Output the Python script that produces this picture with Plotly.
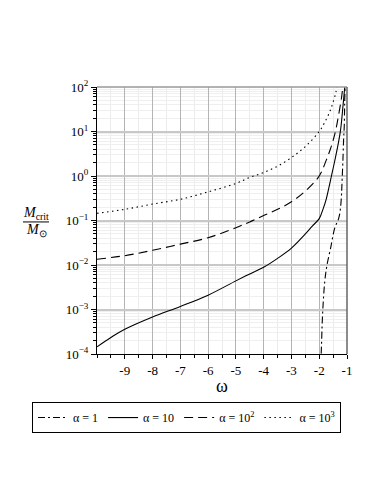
import plotly.graph_objects as go

# curves (omega, M_crit / M_sun)
w_a1 = [-1.985, -1.95, -1.93, -1.88, -1.8, -1.72, -1.59, -1.44, -1.3, -1.24, -1.2, -1.18,
        -1.15, -1.12, -1.1, -1.085, -1.07]
m_a1 = [1e-5, 6e-5, 1e-4, 7.6e-4, 4.3e-3, 0.01, 0.024, 0.068, 0.112, 0.178, 0.355, 0.71,
        2.0, 7.1, 12.6, 40, 100]

w_a10 = [-10, -9.5, -9, -8, -7, -6, -5, -4.5, -4, -3.5, -3, -2.5, -2.25, -2, -1.85, -1.75,
         -1.56, -1.44, -1.3, -1.23, -1.14, -1.08]
m_a10 = [1.45e-4, 2.35e-4, 3.6e-4, 6.8e-4, 1.17e-3, 2.1e-3, 4.4e-3, 6.3e-3, 8.9e-3, 0.0141,
         0.024, 0.05, 0.075, 0.11, 0.19, 0.3, 1.0, 2.2, 6.0, 11, 40, 100]

w_a100 = [-10, -9, -8, -7, -6, -5, -4.5, -4, -3.5, -3, -2.5, -2, -1.75, -1.6, -1.5, -1.4,
          -1.3, -1.2, -1.15]
m_a100 = [0.0135, 0.0162, 0.0214, 0.0295, 0.041, 0.069, 0.093, 0.129, 0.178, 0.263, 0.457,
          1.0, 2.24, 4.0, 6.3, 11.2, 24, 56, 100]

w_a1000 = [-10, -9, -8, -7, -6, -5, -4.5, -4, -3.5, -3, -2.5, -2, -1.75, -1.6, -1.5, -1.4, -1.37]
m_a1000 = [0.145, 0.178, 0.234, 0.30, 0.44, 0.68, 0.93, 1.2, 1.66, 2.6, 4.6, 10, 18.6, 30, 46,
           76, 100]

names = ["α = 1", "α = 10", "α = 10<sup>2</sup>", "α = 10<sup>3</sup>"]
dashes = ["7px,3px,2px,3px", "solid", "9px,5px", "1.5px,3.5px"]

x_ticks = [-9, -8, -7, -6, -5, -4, -3, -2, -1]
x_labels = ["-9", "-8", "-7", "-6", "-5", "-4", "-3", "-2", "-1"]
y_ticks = [1e-4, 1e-3, 1e-2, 1e-1, 1e0, 1e1, 1e2]
y_labels = ["10<sup>−4</sup>", "10<sup>−3</sup>", "10<sup>−2</sup>", "10<sup>−1</sup>",
            "10<sup>0</sup>", "10<sup>1</sup>", "10<sup>2</sup>"]

SERIF = "Liberation Serif"

fig = go.Figure()
for w, m, name, dash in zip([w_a1, w_a10, w_a100, w_a1000],
                            [m_a1, m_a10, m_a100, m_a1000], names, dashes):
    fig.add_trace(go.Scatter(x=w, y=m, mode="lines", name=name,
                             line=dict(color="black", width=1.1, dash=dash, shape="spline")))

# the page body adds an 8px offset, so the figure is 8px smaller each way
fig.update_layout(
    width=375, height=487,
    margin=dict(l=89, r=36, t=79, b=141),
    plot_bgcolor="white", paper_bgcolor="white",
    font=dict(family=SERIF, size=13, color="black"),
    xaxis=dict(
        range=[-10, -1], tickmode="array", tickvals=x_ticks, ticktext=x_labels,
        showline=True, linecolor="black", linewidth=1,
        ticks="outside", ticklen=4, tickcolor="black",
        showgrid=True, gridcolor="#b4b4b4", gridwidth=1.2, zeroline=False,
        minor=dict(dtick=0.5, ticks="outside", ticklen=3, tickcolor="black",
                   showgrid=True, gridcolor="#ececec", gridwidth=1),
        title=dict(text="ω", font=dict(size=18), standoff=2),
    ),
    yaxis=dict(
        type="log", range=[-4, 2], tickmode="array", tickvals=y_ticks, ticktext=y_labels,
        showline=True, linecolor="black", linewidth=1,
        ticks="outside", ticklen=5, tickcolor="black",
        showgrid=True, gridcolor="#c8c8c8", gridwidth=1.5, zeroline=False,
        minor=dict(dtick="D1", ticks="outside", ticklen=3, tickcolor="black",
                   showgrid=True, gridcolor="#efefef", gridwidth=1),
    ),
    legend=dict(orientation="h", x=-0.26, xanchor="left", y=-0.18, yanchor="top",
                bordercolor="black", borderwidth=1, font=dict(size=12),
                itemwidth=30, tracegroupgap=0),
)

# top / right frame
fig.add_shape(type="line", xref="paper", yref="paper", x0=0, x1=1, y0=1, y1=1,
              line=dict(color="#999999", width=1.5))
fig.add_shape(type="line", xref="paper", yref="paper", x0=1, x1=1, y0=0, y1=1,
              line=dict(color="#666666", width=1.5))

# y title as a fraction
fig.add_annotation(xref="paper", yref="paper", x=-0.244, y=0.527, showarrow=False,
                   text="<i>M</i><sub>crit</sub>", font=dict(size=14),
                   xanchor="center", yanchor="middle")
fig.add_annotation(xref="paper", yref="paper", x=-0.244, y=0.463, showarrow=False,
                   text="<i>M</i><sub>⊙</sub>", font=dict(size=14),
                   xanchor="center", yanchor="middle")
fig.add_shape(type="line", xref="paper", yref="paper", x0=-0.296, x1=-0.192,
              y0=0.4946, y1=0.4946, line=dict(color="black", width=1))

fig.write_html("out.html")
